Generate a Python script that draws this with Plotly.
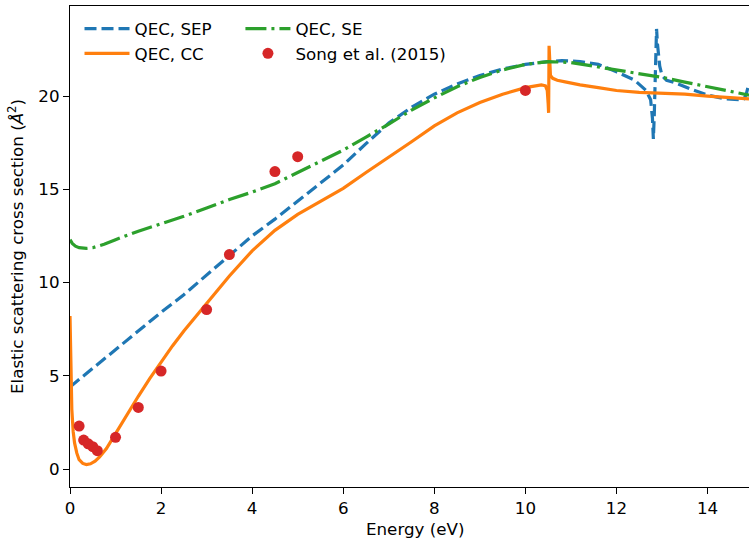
import plotly.graph_objects as go

# QEC, SEP (static-exchange plus polarization)
sep_x = [0.0, 0.5, 1.0, 1.5, 2.0, 2.5, 3.0, 3.5, 4.0, 4.5, 5.0, 5.5, 6.0, 6.5, 7.0,
         7.5, 8.0, 8.5, 9.0, 9.5, 10.0, 10.5, 10.8, 11.2, 11.6, 12.0, 12.4, 12.65, 12.75,
         12.79, 12.81, 12.83, 12.86, 12.88, 12.9, 12.95, 13.0, 13.1, 13.3, 13.6, 14.0,
         14.4, 14.7, 14.8, 14.85, 14.91]
sep_y = [4.4, 5.4, 6.45, 7.45, 8.4, 9.35, 10.4, 11.5, 12.5, 13.4, 14.35, 15.3, 16.3, 17.45,
         18.55, 19.4, 20.1, 20.65, 21.1, 21.45, 21.7, 21.85, 21.9, 21.85, 21.7, 21.3,
         20.85, 20.3, 19.8, 18.8, 17.7, 19.0, 22.5, 23.6, 22.8, 21.6, 21.1, 20.85, 20.7,
         20.4, 20.05, 19.85, 19.8, 19.85, 20.1, 20.7]

# QEC, CC (close coupling)
cc_x = [0.0, 0.02, 0.04, 0.07, 0.1, 0.15, 0.2, 0.28, 0.36, 0.45, 0.55, 0.65, 0.8, 0.9,
        1.0, 1.1, 1.25, 1.5, 1.75, 2.0, 2.25, 2.5, 2.75, 3.0, 3.5, 4.0, 4.5, 5.0, 5.5,
        6.0, 6.5, 7.0, 7.5, 8.0, 8.5, 9.0, 9.5, 10.0, 10.2, 10.35, 10.44, 10.48, 10.5,
        10.51, 10.52, 10.53, 10.55, 10.6, 10.7, 10.9, 11.2, 11.6, 12.0, 12.5, 13.0,
        13.5, 14.0, 14.5, 14.91]
cc_y = [8.2, 5.0, 3.2, 2.0, 1.4, 0.85, 0.5, 0.3, 0.24, 0.28, 0.42, 0.65, 1.1, 1.5,
        1.9, 2.3, 2.95, 3.9, 4.85, 5.75, 6.6, 7.4, 8.15, 8.85, 10.35, 11.7, 12.8, 13.65,
        14.35, 15.05, 15.9, 16.7, 17.55, 18.4, 19.1, 19.65, 20.1, 20.45, 20.55, 20.6,
        20.55, 20.3, 19.6, 19.1, 22.7, 21.6, 21.1, 20.95, 20.85, 20.75, 20.6, 20.45,
        20.3, 20.2, 20.15, 20.1, 20.0, 19.9, 19.85]

# QEC, SE (static exchange)
se_x = [0.0, 0.05, 0.12, 0.2, 0.36, 0.5, 0.75, 1.0, 1.5, 2.0, 2.5, 3.0, 3.5, 4.0, 4.5,
        5.0, 5.5, 6.0, 6.5, 7.0, 7.5, 8.0, 8.5, 9.0, 9.5, 10.0, 10.5, 11.0, 11.5, 12.0,
        12.5, 13.0, 13.5, 14.0, 14.5, 14.91]
se_y = [12.3, 12.1, 11.95, 11.87, 11.83, 11.87, 12.05, 12.3, 12.75, 13.15, 13.55, 14.0,
        14.45, 14.85, 15.3, 15.9, 16.5, 17.1, 17.8, 18.5, 19.25, 19.9, 20.5, 21.0, 21.4,
        21.7, 21.85, 21.8, 21.6, 21.4, 21.2, 21.0, 20.75, 20.5, 20.25, 20.05]

# Song et al. (2015) measurements
song_x = [0.2, 0.3, 0.4, 0.5, 0.6, 1.0, 1.5, 2.0, 3.0, 3.5, 4.5, 5.0, 10.0]
song_y = [2.3, 1.55, 1.35, 1.2, 0.98, 1.7, 3.3, 5.25, 8.55, 11.5, 15.95, 16.75, 20.3]

x_ticks = [0, 2, 4, 6, 8, 10, 12, 14]
y_ticks = [0, 5, 10, 15, 20]

BLUE, ORANGE, GREEN, RED = "#1f77b4", "#ff7f0e", "#2ca02c", "#d62728"
FONT = "DejaVu Sans"
FS = 16.7
LW = 3.2

fig = go.Figure()
fig.add_trace(go.Scatter(x=sep_x, y=sep_y, mode="lines", name="QEC, SEP",
                         line=dict(color=BLUE, width=LW, dash="12px,5px"),
                         legend="legend"))
fig.add_trace(go.Scatter(x=cc_x, y=cc_y, mode="lines", name="QEC, CC",
                         line=dict(color=ORANGE, width=LW), legend="legend"))
fig.add_trace(go.Scatter(x=se_x, y=se_y, mode="lines", name="QEC, SE",
                         line=dict(color=GREEN, width=LW, dash="21px,5px,3px,5px"),
                         legend="legend2"))
fig.add_trace(go.Scatter(x=song_x, y=song_y, mode="markers", name="Song et al. (2015)",
                         marker=dict(color=RED, size=11, line=dict(width=0)),
                         legend="legend2"))

axis_common = dict(
    showgrid=False, zeroline=False, showline=True, linecolor="black", linewidth=1.3,
    ticks="outside", ticklen=6, tickwidth=1.3, tickcolor="black",
    tickfont=dict(family=FONT, size=FS, color="black"),
)

fig.update_xaxes(range=[0, 14.91], tickvals=x_ticks, mirror=True, **axis_common)
fig.update_yaxes(range=[-0.965, 24.83], tickvals=y_ticks, mirror=False,
                 title=dict(text="Elastic scattering cross section (<i>Å</i><sup>2</sup>)",
                            font=dict(family=FONT, size=FS, color="black"), standoff=10),
                 **axis_common)

legend_common = dict(
    xref="paper", yref="paper", xanchor="left", yanchor="top",
    bgcolor="rgba(0,0,0,0)", borderwidth=0,
    font=dict(family=FONT, size=FS, color="black"),
    itemwidth=45,
)
fig.update_layout(
    width=749, height=540,
    margin=dict(l=70, r=0, t=6, b=53),
    paper_bgcolor="white", plot_bgcolor="white",
    showlegend=True,
    legend=dict(x=0.014, y=0.989, **legend_common),
    legend2=dict(x=0.251, y=0.989, **legend_common),
    annotations=[dict(text="Energy (eV)", xref="paper", yref="paper",
                      x=(415 - 70) / 679, y=0, xanchor="center", yanchor="top",
                      yshift=-30, showarrow=False,
                      font=dict(family=FONT, size=FS, color="black"))],
)

fig.write_html("out.html")
